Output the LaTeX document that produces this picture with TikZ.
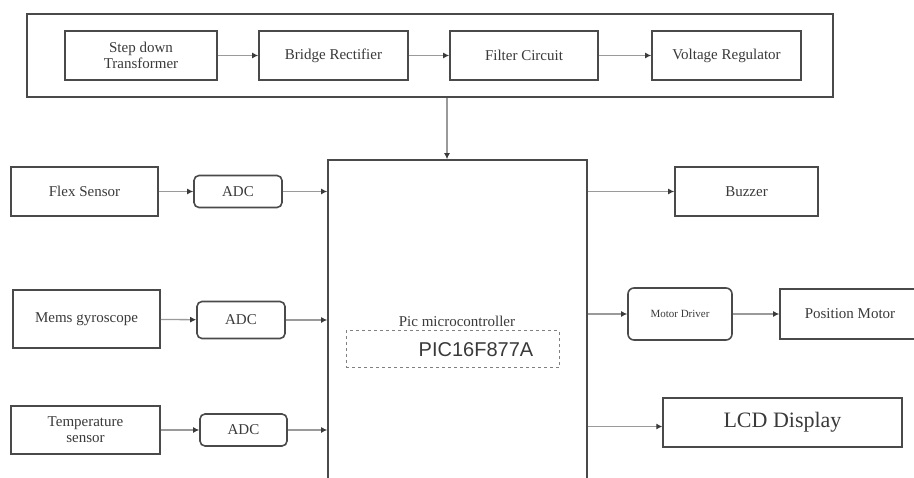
\documentclass[tikz,border=0pt]{standalone}
\usepackage{fontspec}
\setmainfont{Liberation Serif}
\setsansfont{Liberation Sans}
\usepackage{tikz}
\usetikzlibrary{arrows.meta,positioning,calc}
\definecolor{bdLine}{HTML}{4A4A4A}
\definecolor{bdWire}{HTML}{9A9A9A}
\definecolor{bdText}{HTML}{3A3A3A}
\tikzset{
  bdnode/.style={
    draw=bdLine, line width=1.6pt, fill=white, align=center,
    inner sep=1pt, text=bdText, font=\fontsize{15}{16}\selectfont
  },
  block/.style={bdnode, minimum height=49pt},
  conv/.style={bdnode, rounded corners=5pt, minimum height=32pt, minimum width=88pt},
  powerbox/.style={draw=bdLine, line width=2pt},
  chipbox/.style={draw=bdLine!70, dashed, line width=1pt},
  wire/.style={-{Latex[length=6pt,width=6pt,color=bdLine!80!black]}, line width=1.3pt, bdWire}
}
\begin{document}
\begin{tikzpicture}[x=1pt, y=-1pt]
  \useasboundingbox (0,0) rectangle (914,478);
  \clip (0,0) rectangle (914,478);

  % power supply chain
  \node[powerbox, minimum width=806pt, minimum height=83pt] (pwr) at (430,55.5) {};
  \node[block, minimum width=152pt] (trans) at (141,55.5) {Step down\\Transformer};
  \node[block, minimum width=149pt] (rect) at (333.5,55.5) {Bridge Rectifier};
  \node[block, minimum width=148pt] (filt) at (524,55.5) {Filter Circuit};
  \node[block, minimum width=149pt] (reg) at (726.5,55.5) {Voltage Regulator};

  % controller
  \node[bdnode, minimum width=259pt, minimum height=330pt] (mcu) at (457.5,325) {};
  \node[text=bdText, font=\fontsize{15}{16}\selectfont] (mculbl) at (457,321) {Pic microcontroller};
  \node[chipbox, minimum width=213pt, minimum height=37pt] (chip) at (452.5,349.5) {};
  \node[text=bdText, font=\sffamily\fontsize{20}{22}\selectfont] (chiplbl) at (476,349.5) {PIC16F877A};

  % sensors
  \node[block, minimum width=147pt] (flex) at (84.5,191.5) {Flex Sensor};
  \node[conv] (adcA) at (238,191.5) {ADC};
  \node[block, minimum width=147pt, minimum height=58pt] (gyro) at (86.5,319) {Mems gyroscope};
  \node[conv, minimum height=37pt] (adcB) at (241,320) {ADC};
  \node[block, minimum width=149pt, minimum height=48pt] (temp) at (85.5,430) {Temperature\\sensor};
  \node[conv, minimum width=87pt] (adcC) at (243.5,430) {ADC};

  % outputs
  \node[block, minimum width=143pt] (buzz) at (746.5,191.5) {Buzzer};
  \node[bdnode, rounded corners=6pt, minimum width=104pt, minimum height=52pt,
        font=\fontsize{11}{12}\selectfont] (drv) at (680,314) {Motor Driver};
  \node[block, minimum width=140pt, minimum height=50pt] (motor) at (850,314) {Position Motor};
  \node[bdnode, line width=1.3pt, minimum width=239pt, minimum height=49pt,
        font=\fontsize{22}{24}\selectfont] (lcd) at (782.5,422.5) {LCD Display};

  % connections
  \draw[wire] (trans) -- (rect);
  \draw[wire] (rect) -- (filt);
  \draw[wire] (filt) -- (reg);
  \draw[wire] (pwr.south -| mculbl) ++(-10,0) coordinate (pwrout) -- (pwrout |- mcu.north);
  \draw[wire] (flex) -- (adcA);
  \draw[wire] (adcA) -- (adcA -| mcu.west);
  \draw[wire] (gyro) -- (adcB);
  \draw[wire] (adcB) -- (adcB -| mcu.west);
  \draw[wire] (temp) -- (adcC);
  \draw[wire] (adcC) -- (adcC -| mcu.west);
  \draw[wire] (buzz -| mcu.east) -- (buzz);
  \draw[wire] (drv -| mcu.east) -- (drv);
  \draw[wire] (drv) -- (motor);
  \draw[wire] ($(lcd.west -| mcu.east)+(0,4)$) coordinate (lcdin) -- (lcdin -| lcd.west);
\end{tikzpicture}
\end{document}
